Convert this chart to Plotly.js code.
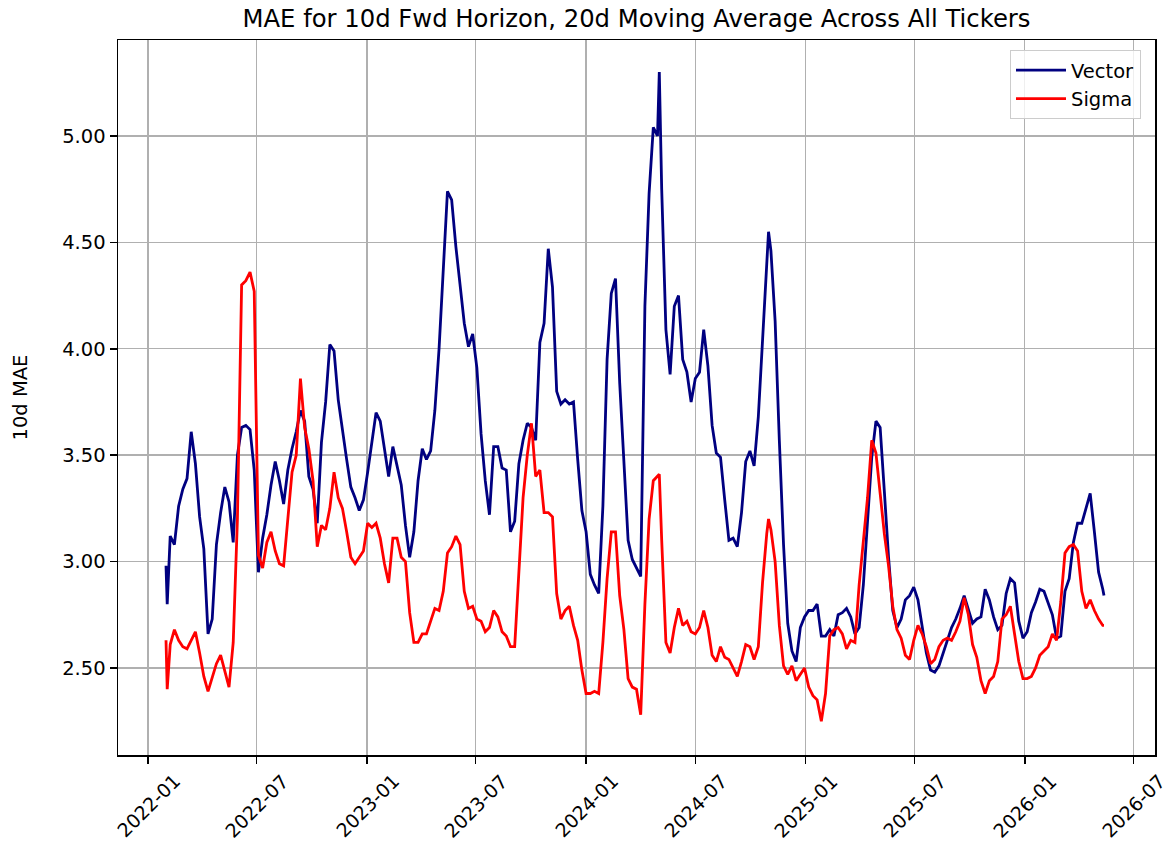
<!DOCTYPE html>
<html>
<head>
<meta charset="utf-8">
<script src="https://cdn.plot.ly/plotly-3.0.1.min.js"></script>
<style>html,body{margin:0;padding:0;background:#fff;}#chart{width:1168px;height:846px;}</style>
</head>
<body>
<div id="chart"></div>
<script>
const dates = [
"2022-01-31","2022-02-02","2022-02-07","2022-02-14","2022-02-21","2022-02-28","2022-03-07","2022-03-14","2022-03-21","2022-03-28",
"2022-04-04","2022-04-11","2022-04-18","2022-04-25","2022-05-02","2022-05-09","2022-05-16","2022-05-23","2022-05-30","2022-06-06",
"2022-06-13","2022-06-20","2022-06-27","2022-07-04","2022-07-11","2022-07-18","2022-07-25","2022-08-01","2022-08-08","2022-08-15",
"2022-08-22","2022-08-29","2022-09-05","2022-09-12","2022-09-19","2022-09-26","2022-10-03","2022-10-10","2022-10-17","2022-10-24",
"2022-10-31","2022-11-07","2022-11-14","2022-11-21","2022-11-28","2022-12-05","2022-12-12","2022-12-19","2022-12-26",
"2023-01-02","2023-01-09","2023-01-16","2023-01-23","2023-01-30","2023-02-06","2023-02-13","2023-02-20","2023-02-27","2023-03-06",
"2023-03-13","2023-03-20","2023-03-27","2023-04-03","2023-04-10","2023-04-17","2023-04-24","2023-05-01","2023-05-08","2023-05-15",
"2023-05-22","2023-05-29","2023-06-05","2023-06-12","2023-06-19","2023-06-26","2023-07-03","2023-07-10","2023-07-17","2023-07-24",
"2023-07-31","2023-08-07","2023-08-14","2023-08-21","2023-08-28","2023-09-04","2023-09-11","2023-09-18","2023-09-25","2023-10-02",
"2023-10-09","2023-10-16","2023-10-23","2023-10-30","2023-11-06","2023-11-13","2023-11-20","2023-11-27","2023-12-04","2023-12-11",
"2023-12-18","2023-12-25",
"2024-01-01","2024-01-08","2024-01-15","2024-01-22","2024-01-29","2024-02-05","2024-02-12","2024-02-19","2024-02-26","2024-03-04",
"2024-03-11","2024-03-18","2024-03-25","2024-04-01","2024-04-08","2024-04-15","2024-04-22","2024-04-29","2024-05-02","2024-05-06",
"2024-05-13","2024-05-20","2024-05-27","2024-06-03","2024-06-10","2024-06-17","2024-06-24","2024-07-01","2024-07-08","2024-07-15",
"2024-07-22","2024-07-29","2024-08-05","2024-08-12","2024-08-19","2024-08-26","2024-09-02","2024-09-09","2024-09-16","2024-09-23",
"2024-09-30","2024-10-07","2024-10-14","2024-10-21","2024-10-28","2024-10-31","2024-11-04","2024-11-11","2024-11-18","2024-11-25",
"2024-12-02","2024-12-09","2024-12-16","2024-12-23","2024-12-30",
"2025-01-06","2025-01-13","2025-01-20","2025-01-27","2025-02-03","2025-02-10","2025-02-17","2025-02-24","2025-03-03","2025-03-10",
"2025-03-17","2025-03-24","2025-03-31","2025-04-07","2025-04-14","2025-04-21","2025-04-28","2025-05-05","2025-05-12","2025-05-19",
"2025-05-26","2025-06-02","2025-06-09","2025-06-16","2025-06-23","2025-06-30","2025-07-07","2025-07-14","2025-07-21","2025-07-28",
"2025-08-04","2025-08-11","2025-08-18","2025-08-25","2025-09-01","2025-09-08","2025-09-15","2025-09-22","2025-09-29","2025-10-06",
"2025-10-13","2025-10-20","2025-10-27","2025-11-03","2025-11-10","2025-11-17","2025-11-24","2025-12-01","2025-12-08","2025-12-15",
"2025-12-22","2025-12-29",
"2026-01-05","2026-01-12","2026-01-19","2026-01-26","2026-02-02","2026-02-09","2026-02-16","2026-02-23","2026-03-02","2026-03-09",
"2026-03-16","2026-03-23","2026-03-30","2026-04-06","2026-04-13","2026-04-20","2026-04-27","2026-05-04","2026-05-11","2026-05-13"
];

const vectorMAE = [
2.98,2.80,3.12,3.08,3.26,3.34,3.39,3.61,3.46,3.21,3.06,2.66,2.73,3.08,3.23,3.35,3.28,3.09,3.50,3.63,
3.64,3.62,3.43,2.95,3.11,3.22,3.36,3.47,3.38,3.27,3.43,3.53,3.61,3.71,3.66,3.40,3.34,3.18,3.56,3.75,
4.02,3.99,3.76,3.61,3.48,3.35,3.30,3.24,3.29,
3.42,3.57,3.70,3.66,3.52,3.40,3.54,3.45,3.36,3.17,3.02,3.14,3.38,3.53,3.48,3.52,3.71,4.00,4.37,4.74,
4.70,4.48,4.30,4.12,4.01,4.07,3.91,3.60,3.38,3.22,3.54,3.54,3.44,3.43,3.14,3.19,3.46,3.57,3.65,3.63,
3.57,4.03,4.12,4.47,4.29,3.80,3.74,3.76,3.74,3.75,3.48,3.24,
3.14,2.94,2.89,2.85,3.26,3.95,4.26,4.33,3.84,3.48,3.10,3.01,2.97,2.93,4.20,4.73,5.04,5.00,5.30,4.75,
4.09,3.88,4.20,4.25,3.95,3.89,3.75,3.86,3.89,4.09,3.92,3.64,3.51,3.49,3.29,3.10,3.11,3.07,3.23,3.47,
3.52,3.45,3.68,4.05,4.45,4.55,4.46,4.13,3.57,3.08,2.71,2.58,2.53,2.69,2.74,
2.77,2.77,2.80,2.65,2.65,2.68,2.65,2.75,2.76,2.78,2.74,2.66,2.69,2.89,3.19,3.49,3.66,3.63,3.33,3.02,
2.77,2.69,2.73,2.82,2.84,2.88,2.82,2.69,2.57,2.49,2.48,2.51,2.57,2.64,2.69,2.73,2.78,2.84,2.77,2.71,
2.73,2.74,2.87,2.82,2.74,2.68,2.70,2.85,2.92,2.90,2.72,2.64,
2.67,2.76,2.81,2.87,2.86,2.80,2.75,2.64,2.65,2.86,2.92,3.09,3.18,3.18,3.25,3.32,3.14,2.95,2.87,2.84
];

const sigmaMAE = [
2.63,2.40,2.61,2.68,2.63,2.60,2.59,2.63,2.67,2.57,2.46,2.39,2.46,2.52,2.56,2.48,2.41,2.62,3.20,4.30,
4.32,4.36,4.27,3.03,2.97,3.09,3.14,3.05,2.99,2.98,3.21,3.42,3.50,3.86,3.63,3.53,3.38,3.07,3.17,3.15,
3.25,3.42,3.30,3.25,3.14,3.02,2.99,3.02,3.05,
3.18,3.16,3.18,3.11,2.99,2.90,3.11,3.11,3.02,3.00,2.76,2.62,2.62,2.66,2.66,2.72,2.78,2.77,2.86,3.04,
3.07,3.12,3.08,2.86,2.78,2.79,2.73,2.72,2.67,2.69,2.77,2.74,2.67,2.65,2.60,2.60,2.96,3.30,3.50,3.65,
3.40,3.43,3.23,3.23,3.21,2.85,2.73,2.77,2.79,2.70,2.63,2.49,
2.38,2.38,2.39,2.38,2.62,2.92,3.14,3.14,2.84,2.68,2.45,2.41,2.40,2.28,2.80,3.20,3.38,3.40,3.41,3.10,
2.62,2.57,2.69,2.78,2.70,2.72,2.67,2.66,2.69,2.77,2.69,2.56,2.53,2.60,2.55,2.54,2.50,2.46,2.53,2.61,
2.60,2.54,2.60,2.90,3.13,3.20,3.15,3.00,2.70,2.51,2.47,2.51,2.44,2.47,2.50,
2.41,2.37,2.35,2.25,2.38,2.65,2.68,2.69,2.66,2.59,2.63,2.62,2.89,3.09,3.30,3.57,3.51,3.32,3.13,2.98,
2.79,2.68,2.64,2.56,2.54,2.63,2.70,2.66,2.60,2.52,2.54,2.60,2.63,2.64,2.63,2.67,2.72,2.83,2.75,2.61,
2.55,2.44,2.38,2.44,2.46,2.53,2.73,2.75,2.79,2.66,2.53,2.45,
2.45,2.46,2.50,2.56,2.58,2.60,2.66,2.63,2.81,3.04,3.07,3.08,3.05,2.86,2.78,2.82,2.77,2.73,2.70,2.70
];

const seriesNames = ["Vector", "Sigma"];
const tickDates = ["2022-01-01","2022-07-01","2023-01-01","2023-07-01","2024-01-01","2024-07-01","2025-01-01","2025-07-01","2026-01-01","2026-07-01"];
const tickLabels = ["2022-01","2022-07","2023-01","2023-07","2024-01","2024-07","2025-01","2025-07","2026-01","2026-07"];
const yTicks = [2.5, 3.0, 3.5, 4.0, 4.5, 5.0];
const yLabel = "10d MAE";

const FONT = "DejaVu Sans, Liberation Sans, sans-serif";

const traces = [
  {x: dates, y: vectorMAE, name: seriesNames[0], type: "scatter", mode: "lines",
   line: {color: "#000080", width: 2.8}},
  {x: dates, y: sigmaMAE, name: seriesNames[1], type: "scatter", mode: "lines",
   line: {color: "#ff0000", width: 2.8}}
];

const annotations = tickDates.map((d, i) => ({
  x: d, xref: "x", y: -0.0713, yref: "paper",
  text: tickLabels[i], showarrow: false, textangle: -45,
  xanchor: "center", yanchor: "middle",
  font: {family: FONT, size: 19, color: "#000"}
}));
annotations.push({
  x: -0.0945, xref: "paper", y: 0.5, yref: "paper",
  text: yLabel, showarrow: false, textangle: -90,
  xanchor: "center", yanchor: "middle",
  font: {family: FONT, size: 19.5, color: "#000"}
});

const layout = {
  width: 1168, height: 846,
  margin: {l: 118, r: 13, t: 40, b: 91},
  paper_bgcolor: "#fff", plot_bgcolor: "#fff",
  font: {family: FONT, size: 19.5, color: "#000"},
  title: {text: "MAE for 10d Fwd Horizon, 20d Moving Average Across All Tickers",
          font: {family: FONT, size: 24.3, color: "#000"},
          x: 0.5, xref: "paper", xanchor: "center",
          y: 0.978, yref: "container", yanchor: "middle"},
  showlegend: true,
  legend: {x: 0.9865, y: 0.986, xanchor: "right", yanchor: "top",
           bgcolor: "rgba(255,255,255,0.8)", bordercolor: "#cccccc", borderwidth: 1,
           itemwidth: 50,
           font: {family: FONT, size: 19.5, color: "#000"}},
  xaxis: {type: "date", range: ["2021-11-12", "2026-08-06"],
          tickvals: tickDates, showticklabels: false,
          ticks: "outside", ticklen: 7, tickwidth: 1.5, tickcolor: "#000",
          showgrid: true, gridcolor: "#b0b0b0", gridwidth: 1.4,
          showline: true, linecolor: "#000", linewidth: 1.5, mirror: true,
          zeroline: false},
  yaxis: {range: [2.091, 5.451], tickvals: yTicks, tickformat: ".2f", ticksuffix: "%",
          ticks: "outside", ticklen: 7, tickwidth: 1.5, tickcolor: "#000",
          tickfont: {family: FONT, size: 19.5, color: "#000"},
          showgrid: true, gridcolor: "#b0b0b0", gridwidth: 1.4,
          showline: true, linecolor: "#000", linewidth: 1.5, mirror: true,
          zeroline: false},
  annotations: annotations
};

Plotly.newPlot("chart", traces, layout, {displayModeBar: false, staticPlot: true});
</script>
</body>
</html>
